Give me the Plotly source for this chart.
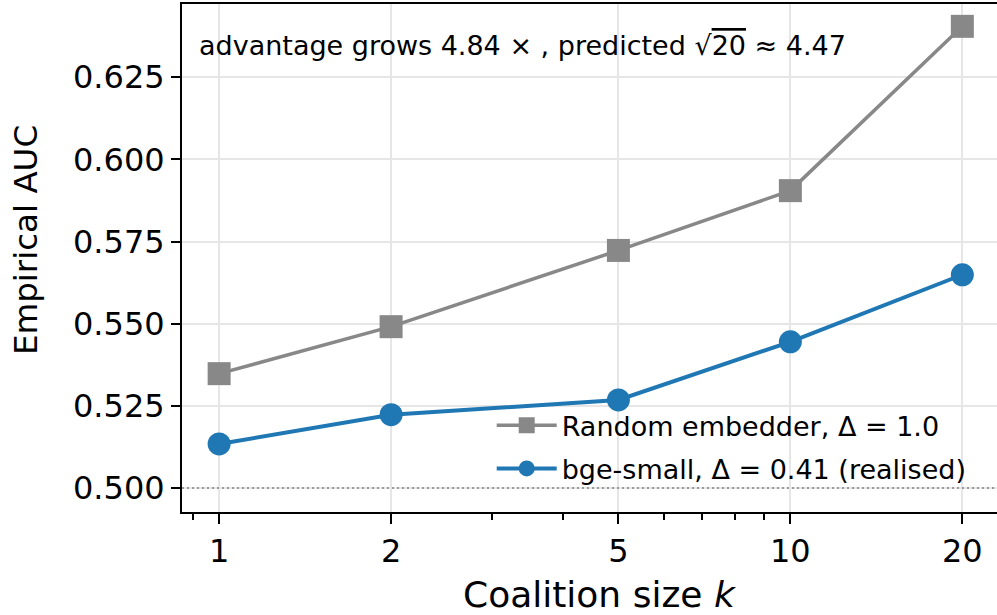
import plotly.graph_objects as go
import math

k_values = [1, 2, 5, 10, 20]
random_auc = [0.5348, 0.5491, 0.5723, 0.5905, 0.6405]
bge_auc = [0.5134, 0.5223, 0.5268, 0.5445, 0.5649]
x_ticks = [1, 2, 5, 10, 20]
x_minor = [0.9, 3, 4, 6, 7, 8, 9]
y_ticks = [0.500, 0.525, 0.550, 0.575, 0.600, 0.625]
y_tick_labels = ["0.500", "0.525", "0.550", "0.575", "0.600", "0.625"]
series_names = ["Random embedder, Δ = 1.0", "bge-small, Δ = 0.41 (realised)"]
baseline = 0.5

FONT = "DejaVu Sans"

fig = go.Figure()
fig.add_trace(go.Scatter(
    x=k_values, y=random_auc, mode="lines+markers", name=series_names[0],
    legendgroup="a",
    line=dict(color="#888888", width=3.5),
    marker=dict(symbol="square", size=23, color="#888888"),
))
fig.add_trace(go.Scatter(
    x=k_values, y=bge_auc, mode="lines+markers", name=series_names[1],
    legendgroup="b",
    line=dict(color="#1f77b4", width=4),
    marker=dict(symbol="circle", size=23, color="#1f77b4"),
))

fig.add_hline(y=baseline, line=dict(color="#9a9a9a", width=2, dash="2px,3px"))

fig.add_annotation(
    xref="paper", yref="paper", x=0.019, y=0.919, xanchor="left", yanchor="middle",
    text="advantage grows 4.84 × , predicted √<span style='text-decoration:overline'>20</span> ≈ 4.47",
    showarrow=False, font=dict(family=FONT, size=27, color="black"),
)
# axis titles placed as annotations
fig.add_annotation(
    xref="paper", yref="paper", x=(600 - 182) / 815, y=(615 - 594 - 103) / 508,
    xanchor="center", yanchor="middle",
    text="Coalition size <i>k</i>", showarrow=False,
    font=dict(family=FONT, size=36, color="black"),
)
fig.add_annotation(
    xref="paper", yref="paper", x=(26 - 182) / 815, y=(512 - 240) / 508,
    xanchor="center", yanchor="middle", textangle=-90,
    text="Empirical AUC", showarrow=False,
    font=dict(family=FONT, size=32.5, color="black"),
)

fig.update_layout(
    width=997, height=615,
    margin=dict(l=182, r=0, t=4, b=103),
    paper_bgcolor="white", plot_bgcolor="white",
    font=dict(family=FONT, color="black"),
    showlegend=True,
    legend=dict(
        x=0.38, y=0.218, xanchor="left", yanchor="top",
        bgcolor="rgba(255,255,255,0)", borderwidth=0,
        font=dict(family=FONT, size=27, color="black"),
        itemsizing="trace", itemwidth=60, tracegroupgap=5,
    ),
)

fig.update_xaxes(
    type="log",
    range=[math.log10(0.861), math.log10(23.0)],
    tickvals=x_ticks, ticktext=[str(v) for v in x_ticks],
    ticks="outside", ticklen=10, tickwidth=2, tickcolor="black",
    tickfont=dict(family=FONT, size=32, color="black"),
    showline=True, linecolor="black", linewidth=2, mirror=True,
    showgrid=True, gridcolor="#e6e6e6", gridwidth=1.5,
    minor=dict(tickvals=x_minor, ticks="outside", ticklen=6, tickwidth=1.5, tickcolor="black", showgrid=False),
    zeroline=False,
)
fig.update_yaxes(
    range=[0.4927, 0.6473],
    tickvals=y_ticks, ticktext=y_tick_labels,
    ticks="outside", ticklen=9, tickwidth=2, tickcolor="black",
    tickfont=dict(family=FONT, size=32, color="black"),
    showline=True, linecolor="black", linewidth=2, mirror=False,
    showgrid=True, gridcolor="#e6e6e6", gridwidth=1.5,
    zeroline=False,
)

fig.write_html("out.html")
